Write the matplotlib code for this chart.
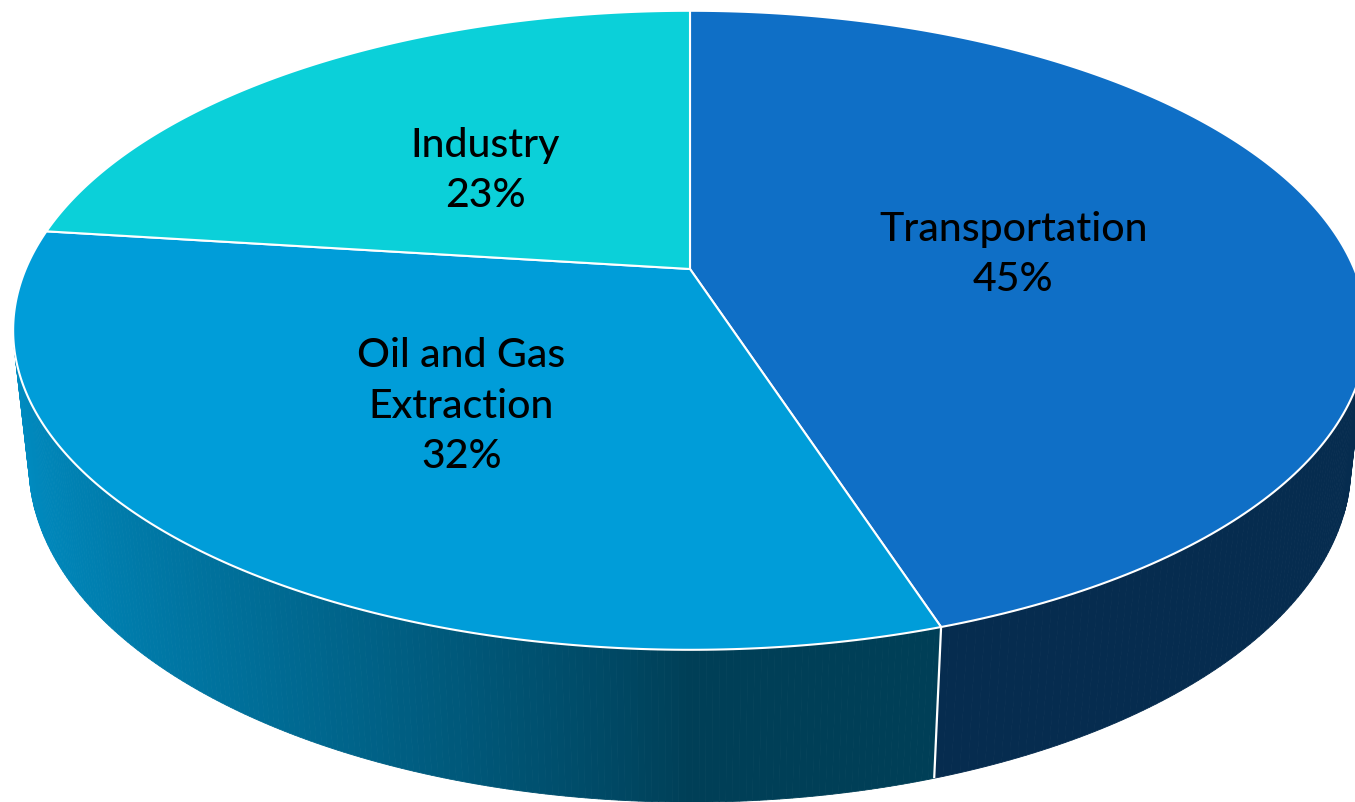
# emissions_share_pie3d.py
# Share of emissions by sector, drawn as a tilted 3D pie
# (perspective projection of a flat cylinder, Office "Blue" palette).

import numpy as np
import matplotlib

matplotlib.use("Agg")
import matplotlib.pyplot as plt
from matplotlib.patches import Polygon
from matplotlib.colors import to_rgb


# ----------------------------
# Data
# ----------------------------
SECTORS = ["Transportation", "Oil and Gas\nExtraction", "Industry"]
SHARES = [45, 32, 23]  # percent
COLORS = ["#0F6FC6", "#009DD9", "#0BD0D9"]

# ----------------------------
# View settings
# ----------------------------
OUT_PNG = "out.png"
ELEV_DEG = 27.6     # camera elevation
CAM_DIST = 4.62     # camera distance (pie radius = 1)
FOCAL = 3069.0      # screen units per unit at distance 1
THICK = 0.23        # pie height
LABEL_R = 0.5       # label radius (fraction of pie radius)
LABEL_DY = -8.0     # small downward nudge for the data labels

XLIM = (-690, 665)
YLIM = (-533, 270)

_S = np.sin(np.radians(ELEV_DEG))
_C = np.cos(np.radians(ELEV_DEG))


def project(x, y, z):
    """Perspective projection: x right, y away from viewer, z up."""
    depth = CAM_DIST + y * _C - z * _S
    return FOCAL * x / depth, FOCAL * (y * _S + z * _C) / depth


def side_visible(phi):
    # outward normal of the rim faces the camera
    return -CAM_DIST * _C * np.sin(phi) > 1.0


def shade(phi):
    # light comes from the left; front/right walls fall into shadow
    k = max(0.0, -np.cos(phi)) ** 0.9
    return 0.40 + 0.50 * k


def slice_angles(shares):
    # first slice starts at 12 o'clock, slices run clockwise
    frac = np.asarray(shares, dtype=float) / float(np.sum(shares))
    edges = np.pi / 2 - 2 * np.pi * np.concatenate([[0.0], np.cumsum(frac)])
    return list(zip(edges[:-1], edges[1:]))


def draw_pie(ax):
    angles = slice_angles(SHARES)

    # ---- side walls (thin facets, shaded per facet)
    for (a0, a1), col in zip(angles, COLORS):
        base = np.array(to_rgb(col))
        phis = np.linspace(a0, a1, 240)
        for p0, p1 in zip(phis[:-1], phis[1:]):
            pm = 0.5 * (p0 + p1)
            if not side_visible(pm):
                continue
            pts = [
                project(np.cos(p0), np.sin(p0), 0.0),
                project(np.cos(p1), np.sin(p1), 0.0),
                project(np.cos(p1), np.sin(p1), -THICK),
                project(np.cos(p0), np.sin(p0), -THICK),
            ]
            fc = np.clip(base * shade(pm), 0, 1)
            ax.add_patch(Polygon(pts, closed=True, facecolor=fc, edgecolor=fc,
                                 linewidth=0.6, zorder=1))

    # ---- vertical seams between slices on the visible wall
    for a0, _ in angles:
        if side_visible(a0):
            x0, y0 = project(np.cos(a0), np.sin(a0), 0.0)
            x1, y1 = project(np.cos(a0), np.sin(a0), -THICK)
            ax.plot([x0, x1], [y0, y1], color="white", lw=1.6, zorder=2,
                    solid_capstyle="butt")

    # ---- top face wedges
    for (a0, a1), col in zip(angles, COLORS):
        phis = np.linspace(a0, a1, 200)
        pts = [project(0.0, 0.0, 0.0)] + [project(np.cos(p), np.sin(p), 0.0) for p in phis]
        ax.add_patch(Polygon(pts, closed=True, facecolor=col, edgecolor="white",
                             linewidth=1.5, joinstyle="round", zorder=3))

    # ---- labels
    for (a0, a1), name, share in zip(angles, SECTORS, SHARES):
        mid = 0.5 * (a0 + a1)
        lx, ly = project(LABEL_R * np.cos(mid), LABEL_R * np.sin(mid), 0.0)
        ax.text(lx, ly + LABEL_DY, f"{name}\n{share}%", ha="center", va="center",
                fontsize=29.5, fontweight="medium", family=["Lato", "DejaVu Sans"],
                color="black", linespacing=1.45, zorder=5)


def main() -> None:
    fig = plt.figure(figsize=(13.55, 8.03), dpi=100)
    ax = fig.add_axes([0, 0, 1, 1])
    ax.set_xlim(*XLIM)
    ax.set_ylim(*YLIM)
    ax.set_aspect("auto")
    ax.axis("off")

    draw_pie(ax)

    fig.savefig(OUT_PNG, dpi=100, facecolor="white")


if __name__ == "__main__":
    main()
